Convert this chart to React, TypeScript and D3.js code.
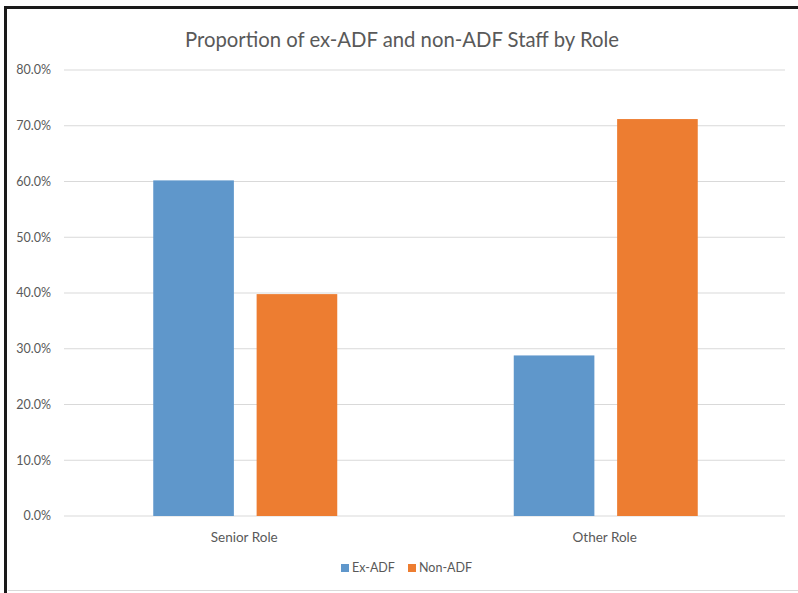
import React from "react";
import * as d3 from "d3";

const categories = ["Senior Role", "Other Role"];
const seriesNames = ["Ex-ADF", "Non-ADF"];
const exAdf = [60.2, 28.8];
const nonAdf = [39.8, 71.2];
const yTicks = [0, 10, 20, 30, 40, 50, 60, 70, 80];
const colors = ["#5f97cb", "#ed7d31"];

const W = 798;
const H = 593;
const plot = { left: 64, right: 785, top: 70, bottom: 516 };

export default function App() {
  const x0 = d3.scaleBand<string>().domain(categories).range([plot.left, plot.right]).paddingInner(0).paddingOuter(0);
  const groupWidth = 184;
  const x1 = d3.scaleBand<string>().domain(seriesNames).range([0, groupWidth]).paddingInner(0.22).paddingOuter(0);
  const y = d3.scaleLinear().domain([0, 80]).range([plot.bottom, plot.top]);
  const values = [exAdf, nonAdf];
  const font = "Lato, 'Open Sans', sans-serif";

  return (
    <svg width={W} height={H} style={{ position: "absolute", left: 0, top: 0, background: "#fff" }} fontFamily={font}>
      <rect x={0} y={0} width={W} height={H} fill="#fff" />
      {/* frame */}
      <line x1={5.5} y1={7} x2={5.5} y2={H} stroke="#1a1a1a" strokeWidth={3} />
      <line x1={4} y1={7.5} x2={W} y2={7.5} stroke="#1a1a1a" strokeWidth={3} />
      <line x1={8} y1={590.5} x2={W} y2={590.5} stroke="#d9d9d9" strokeWidth={1} />
      {yTicks.map((t) => (
        <g key={t}>
          <line x1={plot.left} x2={plot.right} y1={y(t)} y2={y(t)} stroke="#d9d9d9" strokeWidth={1.2} />
          <text x={51} y={y(t)} dy="0.35em" textAnchor="end" fontSize={12.5} fill="#595959">
            {d3.format(".1f")(t)}%
          </text>
        </g>
      ))}
      {categories.map((c, ci) => {
        const gx = (x0(c) as number) + x0.bandwidth() / 2 - groupWidth / 2 + 1;
        return (
          <g key={c}>
            {seriesNames.map((s, si) => (
              <rect
                key={s}
                x={gx + (x1(s) as number)}
                y={y(values[si][ci])}
                width={x1.bandwidth()}
                height={plot.bottom - y(values[si][ci])}
                fill={colors[si]}
              />
            ))}
            <text x={(x0(c) as number) + x0.bandwidth() / 2} y={537} dy="0.35em" textAnchor="middle" fontSize={13.5} fill="#595959">
              {c}
            </text>
          </g>
        );
      })}
      <text x={402} y={40} dy="0.35em" textAnchor="middle" fontSize={20.3} fill="#595959">
        Proportion of ex-ADF and non-ADF Staff by Role
      </text>
      {/* legend */}
      {seriesNames.map((s, i) => {
        const lx = [341, 408][i];
        return (
          <g key={s}>
            <rect x={lx} y={564} width={8} height={8} fill={colors[i]} />
            <text x={lx + 11} y={568} dy="0.35em" fontSize={12.5} fill="#595959">
              {s}
            </text>
          </g>
        );
      })}
    </svg>
  );
}
